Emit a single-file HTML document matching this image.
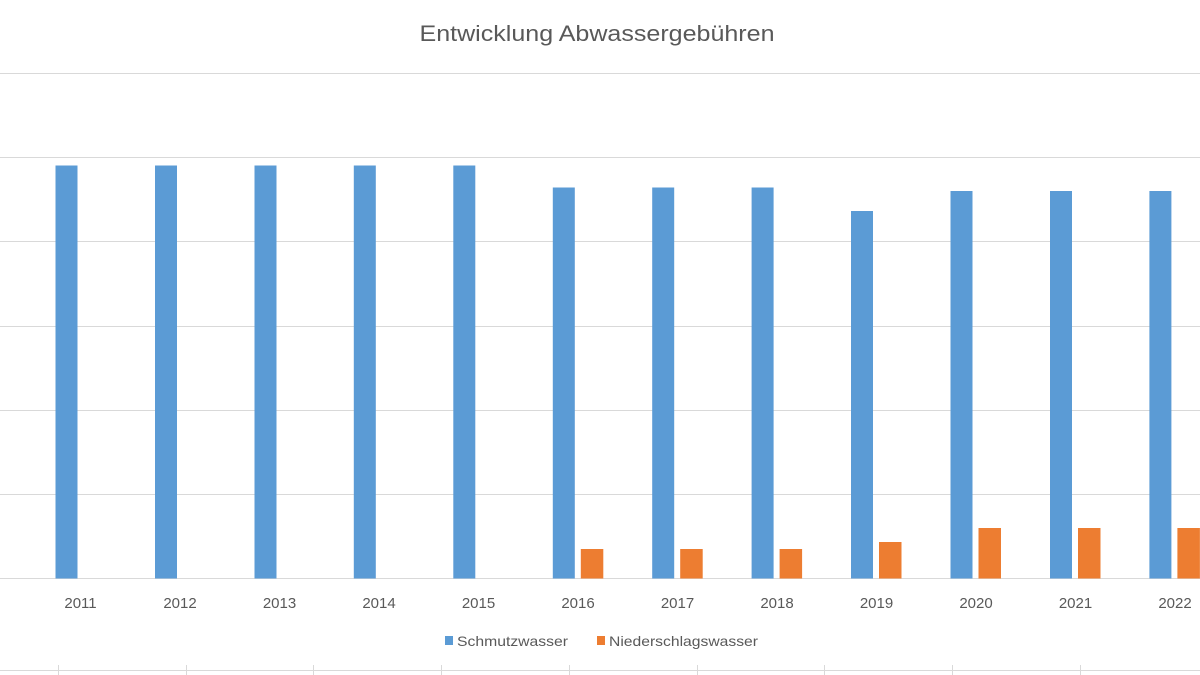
<!DOCTYPE html>
<html><head><meta charset="utf-8"><style>
html,body{margin:0;padding:0;background:#fff;width:1200px;height:675px;overflow:hidden}
svg{display:block}
text{font-family:"Liberation Sans",sans-serif;fill:#595959}
</style></head><body>
<svg width="1200" height="675" viewBox="0 0 1200 675" xmlns="http://www.w3.org/2000/svg">
<text x="597" y="41" font-size="22" text-anchor="middle" textLength="355" lengthAdjust="spacingAndGlyphs">Entwicklung Abwassergebühren</text>
<g stroke="#d9d9d9" stroke-width="1">
<line x1="0" x2="1200" y1="73.5" y2="73.5"/>
<line x1="0" x2="1200" y1="157.5" y2="157.5"/>
<line x1="0" x2="1200" y1="241.5" y2="241.5"/>
<line x1="0" x2="1200" y1="326.5" y2="326.5"/>
<line x1="0" x2="1200" y1="410.5" y2="410.5"/>
<line x1="0" x2="1200" y1="494.5" y2="494.5"/>
<line x1="0" x2="1200" y1="578.5" y2="578.5"/>
<line x1="0" x2="1200" y1="670.5" y2="670.5"/>
<line x1="58.5" x2="58.5" y1="665" y2="675"/>
<line x1="186.5" x2="186.5" y1="665" y2="675"/>
<line x1="313.5" x2="313.5" y1="665" y2="675"/>
<line x1="441.5" x2="441.5" y1="665" y2="675"/>
<line x1="569.5" x2="569.5" y1="665" y2="675"/>
<line x1="697.5" x2="697.5" y1="665" y2="675"/>
<line x1="824.5" x2="824.5" y1="665" y2="675"/>
<line x1="952.5" x2="952.5" y1="665" y2="675"/>
<line x1="1080.5" x2="1080.5" y1="665" y2="675"/>
</g>
<g fill="#5b9bd5">
<rect x="55.5" y="165.5" width="22" height="413"/>
<rect x="155" y="165.5" width="22" height="413"/>
<rect x="254.5" y="165.5" width="22" height="413"/>
<rect x="353.8" y="165.5" width="22" height="413"/>
<rect x="453.3" y="165.5" width="22" height="413"/>
<rect x="552.8" y="187.5" width="22" height="391"/>
<rect x="652.2" y="187.5" width="22" height="391"/>
<rect x="751.6" y="187.5" width="22" height="391"/>
<rect x="851" y="211" width="22" height="367.5"/>
<rect x="950.5" y="191" width="22" height="387.5"/>
<rect x="1050" y="191" width="22" height="387.5"/>
<rect x="1149.4" y="191" width="22" height="387.5"/>
</g>
<g fill="#ed7d31">
<rect x="580.8" y="549" width="22.5" height="29.5"/>
<rect x="680.2" y="549" width="22.5" height="29.5"/>
<rect x="779.6" y="549" width="22.5" height="29.5"/>
<rect x="879" y="542" width="22.5" height="36.5"/>
<rect x="978.5" y="528" width="22.5" height="50.5"/>
<rect x="1078" y="528" width="22.5" height="50.5"/>
<rect x="1177.4" y="528" width="22.5" height="50.5"/>
</g>
<g font-size="15" text-anchor="middle">
<text x="80.5" y="608">2011</text>
<text x="180" y="608">2012</text>
<text x="279.5" y="608">2013</text>
<text x="379" y="608">2014</text>
<text x="478.5" y="608">2015</text>
<text x="578" y="608">2016</text>
<text x="677.5" y="608">2017</text>
<text x="777" y="608">2018</text>
<text x="876.5" y="608">2019</text>
<text x="976" y="608">2020</text>
<text x="1075.5" y="608">2021</text>
<text x="1175" y="608">2022</text>
</g>
<rect x="445" y="636" width="8" height="9" fill="#5b9bd5"/>
<text x="457" y="646" font-size="14" textLength="111" lengthAdjust="spacingAndGlyphs">Schmutzwasser</text>
<rect x="597" y="636" width="8" height="9" fill="#ed7d31"/>
<text x="609" y="646" font-size="14" textLength="149" lengthAdjust="spacingAndGlyphs">Niederschlagswasser</text>
</svg>
</body></html>
